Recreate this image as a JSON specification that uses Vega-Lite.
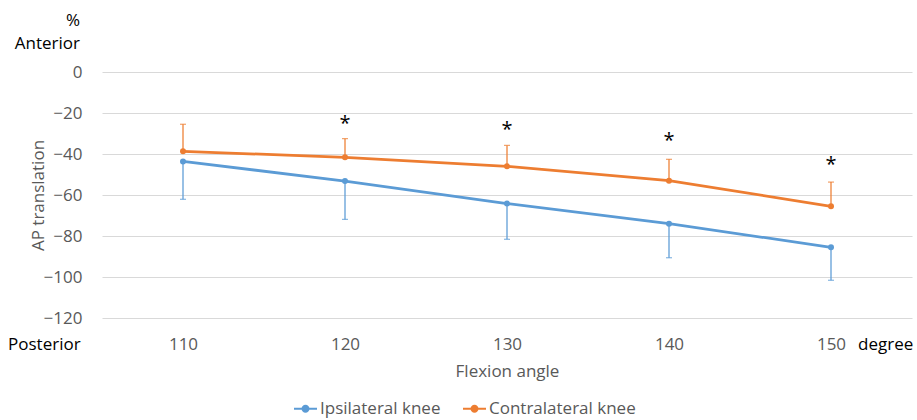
{
  "$schema": "https://vega.github.io/schema/vega-lite/v6.json",
  "autosize": {"type": "none"},
  "padding": {"left": 102, "top": 72, "right": 5, "bottom": 102},
  "width": 810,
  "height": 246,
  "background": "white",
  "config": {
    "view": {"stroke": null},
    "font": "Open Sans"
  },
  "datasets": {
    "knee": [
      {"angle": 110, "series": "Ipsilateral knee", "mean": -43.6, "err": -62.1},
      {"angle": 120, "series": "Ipsilateral knee", "mean": -53.2, "err": -71.9},
      {"angle": 130, "series": "Ipsilateral knee", "mean": -64.2, "err": -81.6},
      {"angle": 140, "series": "Ipsilateral knee", "mean": -74.0, "err": -90.6},
      {"angle": 150, "series": "Ipsilateral knee", "mean": -85.5, "err": -101.6},
      {"angle": 110, "series": "Contralateral knee", "mean": -38.7, "err": -25.5},
      {"angle": 120, "series": "Contralateral knee", "mean": -41.6, "err": -32.5},
      {"angle": 130, "series": "Contralateral knee", "mean": -46.0, "err": -35.8},
      {"angle": 140, "series": "Contralateral knee", "mean": -53.0, "err": -42.6},
      {"angle": 150, "series": "Contralateral knee", "mean": -65.5, "err": -53.7}
    ],
    "stars": [
      {"angle": 120, "y": -25.2, "label": "*"},
      {"angle": 130, "y": -28.5, "label": "*"},
      {"angle": 140, "y": -33.7, "label": "*"},
      {"angle": 150, "y": -45.5, "label": "*"}
    ],
    "notesRight": [
      {"x": 103.64, "y": 25.0, "label": "%"},
      {"x": 103.64, "y": 13.5, "label": "Anterior"}
    ],
    "notesLeft": [
      {"x": 99.2, "y": -133.2, "label": "Posterior"},
      {"x": 151.67, "y": -133.2, "label": "degree"}
    ]
  },
  "layer": [
    {
      "data": {"name": "knee"},
      "mark": {"type": "rule", "strokeWidth": 1.25},
      "encoding": {
        "x": {
          "field": "angle", "type": "quantitative",
          "scale": {"domain": [105, 155], "nice": false, "zero": false},
          "axis": {
            "values": [110, 120, 130, 140, 150],
            "grid": false, "ticks": false, "domain": false,
            "labelFontSize": 17, "labelColor": "#595959", "labelPadding": 18,
            "title": "Flexion angle", "titleFontSize": 17, "titleFontWeight": "normal",
            "titleColor": "#595959", "titleY": 53, "titleBaseline": "middle"
          }
        },
        "y": {
          "field": "mean", "type": "quantitative",
          "scale": {"domain": [-120, 0], "nice": false, "zero": false},
          "axis": {
            "values": [-120, -100, -80, -60, -40, -20, 0],
            "grid": true, "gridColor": "#d9d9d9", "gridWidth": 1,
            "ticks": false, "domain": false,
            "labelFontSize": 17, "labelColor": "#595959", "labelPadding": 20,
            "title": "AP translation", "titleFontSize": 17, "titleFontWeight": "normal",
            "titleColor": "#595959", "titleX": -64, "titleY": 123,
            "titleAlign": "center", "titleBaseline": "middle"
          }
        },
        "y2": {"field": "err"},
        "color": {
          "field": "series", "type": "nominal",
          "scale": {"domain": ["Ipsilateral knee", "Contralateral knee"], "range": ["#5b9bd5", "#ed7d31"]},
          "legend": {
            "orient": "none", "legendX": 191, "legendY": 324,
            "direction": "horizontal", "title": null,
            "labelFontSize": 17, "labelColor": "#595959",
            "symbolType": "M-1,0H1M-0.26,0A0.26,0.26,0,1,0,0.26,0A0.26,0.26,0,1,0,-0.26,0Z",
            "symbolSize": 529, "symbolStrokeWidth": 2, "labelOffset": 2, "columnPadding": 18,
            "encode": {"symbols": {"update": {"fill": {"scale": "color", "field": "value"}, "stroke": {"scale": "color", "field": "value"}}}}
          }
        }
      }
    },
    {
      "data": {"name": "knee"},
      "mark": {"type": "tick", "orient": "horizontal", "size": 6, "thickness": 1.25},
      "encoding": {
        "x": {"field": "angle", "type": "quantitative"},
        "y": {"field": "err", "type": "quantitative"},
        "color": {"field": "series", "type": "nominal"}
      }
    },
    {
      "data": {"name": "knee"},
      "mark": {"type": "line", "strokeWidth": 2.75, "point": {"filled": true, "size": 36}},
      "encoding": {
        "x": {"field": "angle", "type": "quantitative"},
        "y": {"field": "mean", "type": "quantitative"},
        "color": {"field": "series", "type": "nominal"}
      }
    },
    {
      "data": {"name": "stars"},
      "mark": {"type": "text", "fontSize": 20, "color": "#000000", "baseline": "middle", "align": "center"},
      "encoding": {
        "x": {"field": "angle", "type": "quantitative"},
        "y": {"field": "y", "type": "quantitative"},
        "text": {"field": "label"}
      }
    },
    {
      "data": {"name": "notesRight"},
      "mark": {"type": "text", "fontSize": 17, "color": "#000000", "baseline": "middle", "align": "right"},
      "encoding": {
        "x": {"field": "x", "type": "quantitative"},
        "y": {"field": "y", "type": "quantitative"},
        "text": {"field": "label"}
      }
    },
    {
      "data": {"name": "notesLeft"},
      "mark": {"type": "text", "fontSize": 17, "color": "#000000", "baseline": "middle", "align": "left"},
      "encoding": {
        "x": {"field": "x", "type": "quantitative"},
        "y": {"field": "y", "type": "quantitative"},
        "text": {"field": "label"}
      }
    }
  ]
}
